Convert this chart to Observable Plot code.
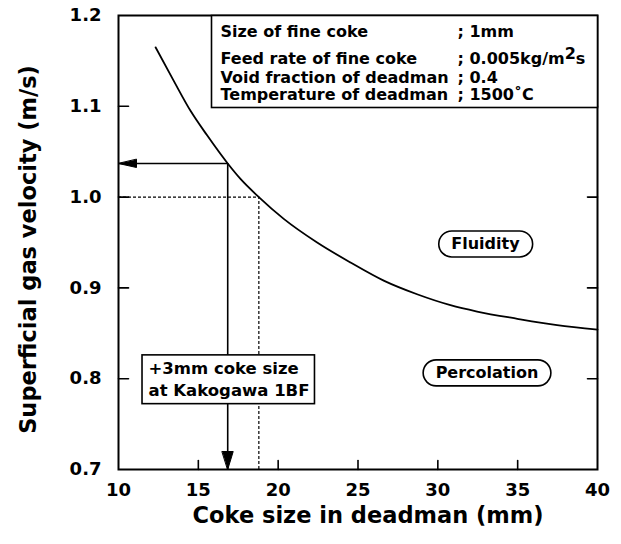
<!DOCTYPE html>
<html><head><meta charset="utf-8">
<script src="https://cdn.jsdelivr.net/npm/d3@7"></script>
<script src="https://cdn.jsdelivr.net/npm/@observablehq/plot@0.6"></script>
<style>body{margin:0;background:#fff} #chart svg{display:block}</style>
</head><body><div id="chart"></div>
<script>
// ---- data ----
const xTicks = [10, 15, 20, 25, 30, 35, 40];
const yTicks = [0.7, 0.8, 0.9, 1.0, 1.1, 1.2];
const cokeSize = [12.32, 13.46, 14.51, 15.55, 16.84, 17.64, 18.79, 20.35, 22.44, 24.53, 26.61, 28.70, 30.79, 32.46, 34.98, 37.47, 40];
const gasVelocity = [1.165, 1.128, 1.095, 1.068, 1.037, 1.020, 1.0, 0.976, 0.950, 0.928, 0.908, 0.893, 0.881, 0.874, 0.866, 0.859, 0.854];
const readCoke = 16.84, readVelocity = 1.037;     // +3mm coke size at Kakogawa 1BF
const dashCoke = 18.79, dashVelocity = 1.0;
const legendLabels = ["Size of fine coke", "Feed rate of fine coke", "Void fraction of deadman", "Temperature of deadman"];
const legendValues = ["; 1mm", "; 0.005kg/m²s", "; 0.4", "; 1500˚C"];
const regionLabels = ["Fluidity", "Percolation"];
const regionCoke = [32.98, 33.08];
const regionVelocity = [0.948, 0.806];
const noteLines = ["+3mm coke size", "at Kakogawa 1BF"];
const noteCoke = 11.88, noteVelocity = 0.801;
const xTitle = "Coke size in deadman (mm)";
const yTitle = "Superficial gas velocity (m/s)";

const curve = cokeSize.map((x, i) => ({x, y: gasVelocity[i]}));
const regions = regionLabels.map((t, i) => ({t, x: regionCoke[i], y: regionVelocity[i]}));
const xMin = xTicks[0], xMax = xTicks[xTicks.length - 1];
const yMin = yTicks[0], yMax = yTicks[yTicks.length - 1];

const tickShape = {draw(ctx, l) { ctx.moveTo(0, 0); ctx.lineTo(0, -l); }};
const headShape = (w) => ({draw(ctx, l) { ctx.moveTo(0, -l); ctx.lineTo(-w, 0); ctx.lineTo(w, 0); ctx.closePath(); }});
const rowDy = [16, 43.5, 62, 79.5];

const chart = Plot.plot({
  width: 621, height: 544,
  marginLeft: 118, marginRight: 24, marginTop: 15, marginBottom: 75,
  style: {fontFamily: "'DejaVu Sans', sans-serif", fontWeight: "bold", fontSize: "18px", background: "white", color: "black"},
  x: {domain: [xMin, xMax], label: null},
  y: {domain: [yMin, yMax], label: null},
  marks: [
    Plot.line(curve, {x: "x", y: "y", curve: "monotone-x", strokeWidth: 1.8}),
    Plot.ruleY([readVelocity], {x1: xMin, x2: readCoke, strokeWidth: 1.6}),
    Plot.ruleX([readCoke], {y1: yMin, y2: readVelocity, strokeWidth: 1.6}),
    Plot.ruleY([dashVelocity], {x1: xMin, x2: dashCoke, strokeWidth: 1.2, strokeDasharray: "3,2"}),
    Plot.ruleX([dashCoke], {y1: yMin, y2: dashVelocity, strokeWidth: 1.2, strokeDasharray: "3,2"}),
    Plot.vector([readVelocity], {x: xMin, y: d => d, rotate: -90, length: 18, anchor: "end", shape: headShape(4), fill: "black", stroke: "black", strokeWidth: 1}),
    Plot.vector([readCoke], {x: d => d, y: yMin, rotate: 180, length: 18, anchor: "end", shape: headShape(5.5), fill: "black", stroke: "black", strokeWidth: 1}),
    Plot.vector(xTicks.slice(1, -1), {x: d => d, y: yMin, rotate: 0, length: 9, anchor: "start", shape: tickShape, strokeWidth: 1.6}),
    Plot.vector(yTicks.slice(1, -1), {x: xMin, y: d => d, rotate: 90, length: 10, anchor: "start", shape: tickShape, strokeWidth: 1.6}),
    Plot.vector(yTicks.slice(1, -1), {x: xMax, y: d => d, rotate: -90, length: 10, anchor: "start", shape: tickShape, strokeWidth: 1.6}),
    Plot.frame({strokeWidth: 2}),
    Plot.frame({insetLeft: 93, insetBottom: 362, fill: "white", stroke: "black", strokeWidth: 1.6}),
    ...legendLabels.map((t, i) => Plot.text([t], {frameAnchor: "top-left", dx: 102, dy: rowDy[i], textAnchor: "start", lineAnchor: "middle", fontSize: 16})),
    ...legendValues.map((t, i) => Plot.text([t], {frameAnchor: "top-left", dx: 339, dy: rowDy[i], textAnchor: "start", lineAnchor: "middle", fontSize: 16, ariaDescription: i === 1 ? "supval" : "legval"})),
    Plot.text([noteLines.join("\n")], {x: noteCoke, y: noteVelocity, textAnchor: "start", lineAnchor: "middle", lineHeight: 1.32, fontSize: 16.5, ariaDescription: "notebox"}),
    Plot.text(regions, {x: "x", y: "y", text: "t", textAnchor: "middle", lineAnchor: "middle", fontSize: 16, ariaDescription: "pill"}),
    Plot.axisX(xTicks, {tickSize: 0, tickPadding: 14, tickFormat: d => String(d), fontSize: 18}),
    Plot.axisY(yTicks, {tickSize: 0, tickPadding: 17, tickFormat: d => d.toFixed(1), fontSize: 18}),
    Plot.text([xTitle], {frameAnchor: "bottom", dx: 10, dy: 46, textAnchor: "middle", lineAnchor: "middle", fontSize: 22.5}),
    Plot.text([yTitle], {frameAnchor: "left", dx: -90, dy: 7, rotate: -90, textAnchor: "middle", lineAnchor: "middle", fontSize: 22.5})
  ]
});
document.getElementById("chart").append(chart);

const NS = "http://www.w3.org/2000/svg";
function textsFor(label) {
  const out = [];
  chart.querySelectorAll(`[aria-description="${label}"]`).forEach(el => {
    if (el.tagName.toLowerCase() === "text") out.push(el);
    else el.querySelectorAll("text").forEach(t => out.push(t));
  });
  return out;
}
function boxText(label, padL, padR, padT, padB, rx) {
  textsFor(label).forEach(t => {
    const b = t.getBBox();
    const r = document.createElementNS(NS, "rect");
    r.setAttribute("x", b.x - padL);
    r.setAttribute("y", b.y - padT);
    r.setAttribute("width", b.width + padL + padR);
    r.setAttribute("height", b.height + padT + padB);
    r.setAttribute("rx", rx);
    r.setAttribute("fill", "white");
    r.setAttribute("stroke", "black");
    r.setAttribute("stroke-width", 1.6);
    if (t.getAttribute("transform")) r.setAttribute("transform", t.getAttribute("transform"));
    t.parentNode.insertBefore(r, t);
  });
}
boxText("notebox", 6.5, 5, 4, 4, 0);
boxText("pill", 12.5, 12.5, 3.5, 3.5, 13);

textsFor("supval").forEach(t => {
  const s = t.textContent;
  const k = s.indexOf("²");
  if (k < 0) return;
  t.textContent = s.slice(0, k);
  const a = document.createElementNS(NS, "tspan");
  a.setAttribute("dy", "-5"); a.textContent = "2";
  const b = document.createElementNS(NS, "tspan");
  b.setAttribute("dy", "5"); b.textContent = s.slice(k + 1);
  t.append(a, b);
});
</script></body></html>
